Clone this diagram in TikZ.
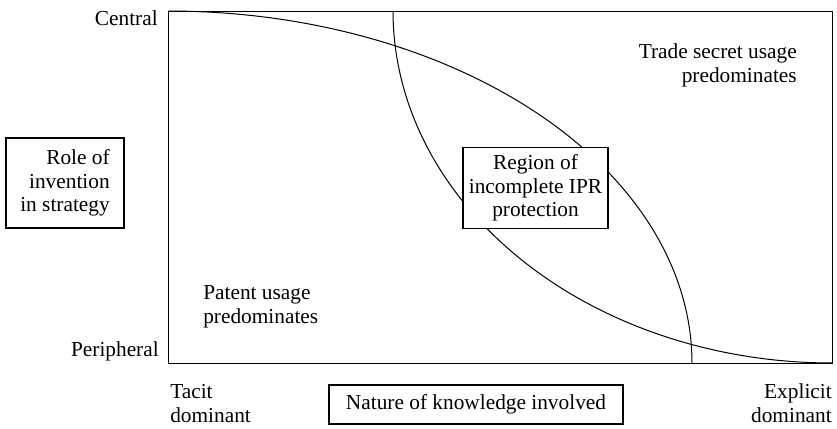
\documentclass[tikz,border=0pt]{standalone}
\usepackage{fontspec}
\setmainfont{Liberation Serif}
\begin{document}
\begin{tikzpicture}[x=0.75pt,y=-0.75pt,
  every node/.style={font=\fontsize{16}{17.6}\selectfont, inner sep=0pt},
  frameline/.style={line width=0.9pt},
  curveline/.style={line width=0.75pt},
  labelbox/.style={draw, line width=0.9pt, fill=white},
  label/.style={}]
  \useasboundingbox (0,0) rectangle (837,428);

  % axes frame
  \node[draw, frameline, minimum width=498pt, minimum height=264pt, anchor=north west] (frame) at (168,11) {};

  % boundary curves: two quarter ellipses meeting the frame
  \draw[curveline] plot[domain=90:0, samples=90] ({168+524*cos(\x)}, {363-352*sin(\x)});
  \draw[curveline] plot[domain=180:270, samples=90] ({832+439*cos(\x)}, {11-352*sin(\x)});

  % vertical axis labels
  \node[label, anchor=base east] (central) at (158,26) {Central};
  \node[label, anchor=base east] (peripheral) at (159,356) {Peripheral};
  \node[labelbox, align=right, minimum width=88.5pt, minimum height=67.5pt] (role) at (65,183) {Role of\\invention\\in strategy};

  % horizontal axis labels (base anchor sits on the last line)
  \node[label, align=left, anchor=base west] (tacit) at (170,422) {Tacit\\dominant};
  \node[label, align=right, anchor=base east] (explicit) at (832,422) {Explicit\\dominant};
  \node[labelbox, minimum width=220.5pt, minimum height=29.25pt] (nature) at (476,404.5) {Nature of knowledge involved};

  % regions
  \node[label, align=right, anchor=base east] (trade) at (797,82) {Trade secret usage\\predominates};
  \node[label, align=left, anchor=base west] (patent) at (203,323) {Patent usage\\predominates};
  \node[labelbox, align=center, minimum width=108.75pt, minimum height=60.75pt] (region) at (535.5,188) {Region of\\incomplete IPR\\protection};
\end{tikzpicture}
\end{document}
